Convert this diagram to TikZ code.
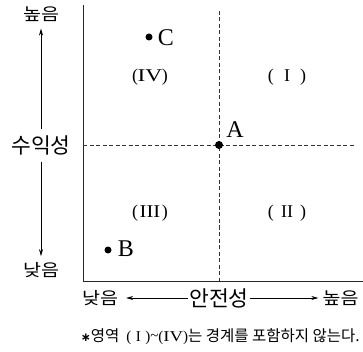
\documentclass[tikz,border=0pt]{standalone}
\usepackage{fontspec}
\usepackage{graphicx}
\setmainfont{Liberation Serif}
\newfontfamily\kr{Noto Sans CJK KR}
\newfontfamily\dv{DejaVu Sans}
\usetikzlibrary{arrows.meta}
\newcommand{\rn}[2][1]{\makebox[1.15em]{\scalebox{#1}[1]{#2}}}
\newcommand{\wide}[1]{\scalebox{1.15}[1]{#1}}
\begin{document}
\begin{tikzpicture}[x=1pt,y=-1pt,
  axis/.style={line width=0.9pt,black!85},
  guide/.style={line width=0.7pt,black!80,dash pattern=on 4pt off 2.5pt},
  arr/.style={line width=0.7pt,-{Stealth[length=7pt,width=4pt]}},
  small/.style={font=\kr\fontsize{17}{17}\selectfont,inner sep=0pt},
  big/.style={font=\kr\fontsize{21.5}{21.5}\selectfont,inner sep=0pt},
  region/.style={font=\fontsize{18}{18}\selectfont,inner sep=0pt},
  letter/.style={font=\fontsize{24}{24}\selectfont,inner sep=0pt},
  dot/.style={circle,fill=black,inner sep=0pt,minimum size=#1},
  dot/.default=7pt]
\useasboundingbox (0,0) rectangle (363,352);
% axes
\coordinate (axtop) at (83,5);
\coordinate (origin) at (83,281);
\coordinate (axright) at (363,281);
\draw[axis] (axtop) -- (origin) -- (axright);
% guides
\coordinate (gvt) at (219,11);
\coordinate (gvb) at (219,281);
\coordinate (ghl) at (83,145);
\coordinate (ghr) at (355,145);
\draw[guide] (gvt) -- (gvb);
\draw[guide] (ghl) -- (ghr);
% vertical axis labels
\node[small] (vhigh) at (41,14) {\wide{높음}};
\node[big] (suik) at (41,145) {수익성};
\node[small] (vlow) at (41,270) {\wide{낮음}};
\draw[arr,shorten <=6.5pt,shorten >=7pt] (suik.north) -- (vhigh.south);
\draw[arr,shorten <=7.5pt,shorten >=6pt] (suik.south) -- (vlow.north);
% horizontal axis labels
\node[small] (hlow) at (100,298) {\wide{낮음}};
\node[big] (anj) at (219,298) {안전성};
\node[small] (hhigh) at (340.5,298) {\wide{높음}};
\draw[arr,shorten <=1pt,shorten >=8pt] (anj.west) -- (hlow.east);
\draw[arr,shorten <=1pt,shorten >=4pt] (anj.east) -- (hhigh.west);
% region labels
\node[region] (r4) at (150,77) {(\hspace{0.08em}\rn[1.3]{IV}\hspace{0.08em})};
\node[region] (r1) at (287,77) {(\hspace{0.15em}\rn{I}\hspace{0.15em})};
\node[region] (r3) at (150,213) {(\hspace{0.08em}\rn[1.15]{III}\hspace{0.08em})};
\node[region] (r2) at (287,213) {(\hspace{0.15em}\rn{II}\hspace{0.15em})};
% points
\node[dot=8pt] (A) at (219,145) {};
\node[letter] (Alab) at (235,130) {A};
\node[dot] (B) at (108,250) {};
\node[letter] (Blab) at (126,249) {B};
\node[dot] (C) at (149,37) {};
\node[letter] (Clab) at (166,38) {C};
% footnote
\node[inner sep=0pt,anchor=east] (foot) at (360,337) {{\dv\bfseries\fontsize{12}{12}\selectfont ∗}{\kr\fontsize{15.5}{15.5}\selectfont 영역}\hspace{7pt}{\fontsize{15}{15}\selectfont (\hspace{0.3em}I\hspace{0.3em})\raisebox{0.1em}{\textasciitilde}(\scalebox{1.25}[1]{IV})}{\kr\fontsize{15.5}{15.5}\selectfont 는 경계를 포함하지 않는다.}};
\end{tikzpicture}
\end{document}
